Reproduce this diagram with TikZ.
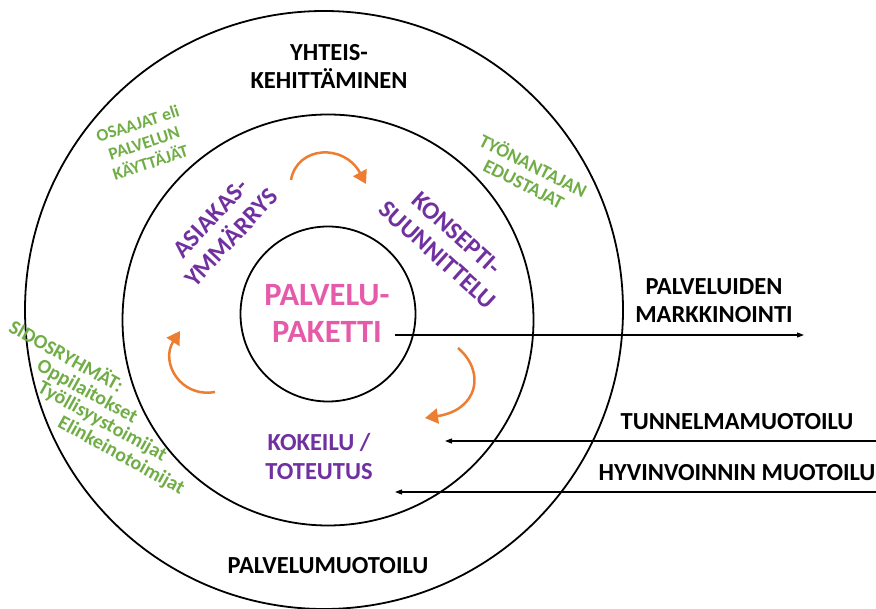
\documentclass[tikz,border=0pt]{standalone}
\usepackage{fontspec}
\setmainfont{Carlito}
\usetikzlibrary{arrows.meta}
\definecolor{lilac}{RGB}{112,48,160}
\definecolor{leaf}{RGB}{112,173,71}
\definecolor{rose}{RGB}{230,90,170}
\definecolor{amber}{RGB}{237,125,49}
\begin{document}
\begin{tikzpicture}[x=1pt,y=-1pt,
  ring/.style={draw=black,line width=1.8pt,circle,inner sep=0pt},
  lbl/.style={font=\bfseries\fontsize{24.5}{28}\selectfont,align=center,inner sep=0pt},
  phase/.style={text=lilac,font=\bfseries\fontsize{25}{28.5}\selectfont,align=center,inner sep=0pt},
  actor/.style={text=leaf,font=\bfseries\fontsize{17.5}{20.5}\selectfont,align=center,inner sep=0pt},
  group/.style={text=leaf,font=\bfseries\fontsize{20}{20}\selectfont,inner sep=0pt},
  cyc/.style={draw=amber,line width=2.5pt,-{Triangle[length=13pt,width=15pt]}},
  feed/.style={draw=black,line width=1.1pt,-{Triangle[length=7pt,width=5pt]}}]
\useasboundingbox (0,0) rectangle (876,609);

% three nested rings
\node[ring,minimum size=598pt] (outer) at (324,310) {};
\node[ring,minimum size=411pt] (middle) at (328,320) {};
\node[ring,minimum size=175pt] (core) at (328,314) {};

% core
\node[text=rose,font=\bfseries\fontsize{32.5}{37}\selectfont,align=center,inner sep=0pt]
  (paketti) at (327,313) {PALVELU-\\PAKETTI};

% outer ring labels
\node[lbl] (yhteis) at (329,66) {YHTEIS-\\KEHITTÄMINEN};
\node[lbl] (pmuot) at (328,566) {PALVELUMUOTOILU};

% phases of the cycle
\node[phase,rotate=47] (asiakas) at (221,228) {ASIAKAS-\\YMMÄRRYS};
\node[phase,rotate=-42] (konsepti) at (447,244) {KONSEPTI-\\SUUNNITTELU};
\node[phase,font=\bfseries\fontsize{24.5}{29}\selectfont] (kokeilu) at (319,456) {KOKEILU /\\TOTEUTUS};

% actors
\node[actor,rotate=18] (osaajat) at (144,143) {OSAAJAT eli\\PALVELUN\\KÄYTTÄJÄT};
\node[actor,font=\bfseries\fontsize{19}{20.5}\selectfont,rotate=-27] (tyonantaja) at (529,174) {TYÖNANTAJAN\\EDUSTAJAT};
\node[group,rotate=-29] (sidos1) at (67,355) {SIDOSRYHMÄT:};
\node[group,rotate=-29] (sidos2) at (87,392) {Oppilaitokset};
\node[group,rotate=-29] (sidos3) at (102,422) {Työllisyystoimijat};
\node[group,rotate=-29] (sidos4) at (121,456) {Elinkeinotoimijat};

% outside labels
\node[lbl] (markk) at (714,301) {PALVELUIDEN\\MARKKINOINTI};
\node[lbl] (tunnel) at (737,422) {TUNNELMAMUOTOILU};
\node[lbl] (hyvin) at (737,473) {HYVINVOINNIN MUOTOILU};

% horizontal connectors
\coordinate (mkTail) at (395,335);
\coordinate (mkTip) at (804,335);
\coordinate (tnTail) at (876,441);
\coordinate (tnTip) at (445,441);
\coordinate (hvTail) at (876,492);
\coordinate (hvTip) at (395,492);
\draw[feed] (mkTail) -- (mkTip);
\draw[feed] (tnTail) -- (tnTip);
\draw[feed] (hvTail) -- (hvTip);

% cycle arrows
\coordinate (c1a) at (291,180);
\coordinate (c1b) at (366,184);
\coordinate (c2a) at (458,348);
\coordinate (c2b) at (425,418);
\coordinate (c3a) at (215,392);
\coordinate (c3b) at (180,331);
\draw[cyc] (c1a) .. controls (297,146) and (344,143) .. (c1b);
\draw[cyc] (c2a) .. controls (486,372) and (478,410) .. (c2b);
\draw[cyc] (c3a) .. controls (180,398) and (160,362) .. (c3b);
\end{tikzpicture}
\end{document}
